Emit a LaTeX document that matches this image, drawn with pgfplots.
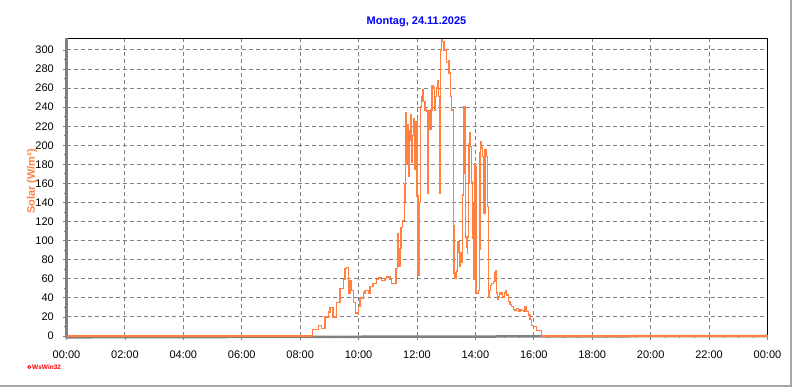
\documentclass[border=0pt]{standalone}
\usepackage{pgfplots}
\pgfplotsset{compat=1.18}
\usepackage{pgfplotstable}
\usepackage{fontspec}
\setmainfont{Liberation Sans}
\definecolor{solar}{RGB}{255,128,64}
\definecolor{gridgray}{RGB}{128,128,128}
\definecolor{titleblue}{RGB}{0,0,255}
\pgfplotstableread{
h v
0 0
8.41 0
8.42 7
8.62 11
8.74 8
8.85 20
8.96 25
9.02 30
9.13 20
9.25 35
9.36 50
9.48 59
9.53 71
9.59 72
9.65 45
9.71 58
9.76 48
9.82 35
9.90 24
9.99 31
10.05 40
10.16 45
10.22 48
10.33 45
10.39 52
10.50 55
10.62 59
10.68 61
10.79 58
10.90 60
10.96 62
11.07 59
11.13 55
11.28 71
11.34 107
11.36 90
11.38 73
11.42 92
11.45 114
11.50 121
11.57 141
11.59 160
11.61 234
11.63 180
11.66 188
11.68 222
11.70 168
11.73 215
11.76 205
11.79 232
11.82 182
11.85 210
11.87 228
11.91 200
11.93 175
11.95 225
11.98 147
12.01 228
12.02 147
12.04 64
12.07 140
12.11 240
12.16 251
12.18 258
12.21 246
12.27 237
12.33 236
12.35 150
12.38 236
12.42 217
12.48 237
12.52 263
12.56 260
12.59 237
12.64 251
12.67 260
12.71 268
12.73 251
12.76 210
12.79 150
12.81 300
12.84 311
12.88 309
12.92 300
12.98 300
13.02 287
13.07 289
13.10 276
13.15 251
13.19 237
13.24 116
13.27 66
13.30 61
13.36 68
13.38 88
13.41 99
13.45 73
13.47 87
13.53 77
13.55 83
13.56 148
13.59 240
13.62 240
13.64 171
13.67 104
13.70 93
13.72 87
13.73 104
13.76 160
13.78 202
13.81 213
13.84 199
13.87 160
13.89 162
13.91 102
13.93 59
13.95 139
13.98 181
14.01 178
14.02 45
14.06 45
14.10 48
14.13 91
14.16 192
14.18 204
14.21 197
14.25 188
14.27 132
14.30 129
14.33 195
14.36 188
14.41 136
14.45 41
14.47 48
14.52 53
14.56 55
14.61 57
14.67 66
14.70 68
14.73 45
14.75 38
14.78 41
14.82 45
14.84 44
14.88 45
14.92 41
14.99 45
15.04 47
15.07 43
15.13 36
15.18 33
15.24 31
15.30 28
15.35 27
15.41 29
15.47 26
15.53 28
15.58 27
15.64 26
15.70 31
15.75 26
15.81 22
15.87 17
15.93 11
15.98 10
16.10 6
16.24 6
16.27 0
24 0
}\solardata
\begin{document}
\begin{tikzpicture}
\path[use as bounding box] (-66.5pt,-51pt) rectangle (725.5pt,336pt);
\begin{axis}[
  at={(0pt,0pt)}, anchor=south west,
  scale only axis, width=701pt, height=297.5pt,
  xmin=0, xmax=24, ymin=0, ymax=312,
  xtick={0,2,...,24},
  xticklabels={00:00,02:00,04:00,06:00,08:00,10:00,12:00,14:00,16:00,18:00,20:00,22:00,00:00},
  ytick={0,20,...,300},
  minor x tick num=3,
  minor y tick num=1,
  tick align=outside,
  major tick length=4pt, minor tick length=2.5pt,
  tick style={gridgray, line width=0.8pt},
  xtick pos=bottom, ytick pos=left,
  grid=major,
  major grid style={gridgray, dash pattern=on 4pt off 3pt, line width=0.9pt},
  axis line style={draw=none},
  /pgf/number format/assume math mode=true,
  ticklabel style={font=\fontsize{11}{12}\selectfont},
  xticklabel style={anchor=center, yshift=-15pt},
  yticklabel style={anchor=east, inner sep=0pt, xshift=-8.5pt},
  clip=false,
]
\draw[black, line width=1.3pt] (rel axis cs:0,1) -- (rel axis cs:1,1) -- (rel axis cs:1,0);
\draw[gridgray, line width=2.5pt] (rel axis cs:0,0) ++(0pt,-1.3pt) -- (rel axis cs:1,0);
\draw[gridgray, line width=2.5pt] (rel axis cs:0,0) ++(0pt,-2.5pt) -- (rel axis cs:0,1);
\addplot[const plot, solar, line width=1.4pt] table[x=h, y=v] {\solardata};
\end{axis}
\node[titleblue, font=\fontsize{11}{12}\selectfont\bfseries] at (350pt,314pt) {Montag, 24.11.2025};
\node[solar, font=\fontsize{11}{12}\selectfont\bfseries, rotate=90] at (-34.5pt,154.5pt) {Solar (W/m²)};
\draw[red, line width=0.8pt] (-37.2pt,-31pt) circle (1.6pt);
\node[red, font=\fontsize{6.5}{7}\selectfont\bfseries, anchor=west, inner sep=0pt] at (-34.5pt,-31pt) {WsWin32};
\draw[gray!70, line width=1.5pt] (-66.5pt,-50.2pt) -- (724.7pt,-50.2pt) -- (724.7pt,336pt);
\end{tikzpicture}
\end{document}
